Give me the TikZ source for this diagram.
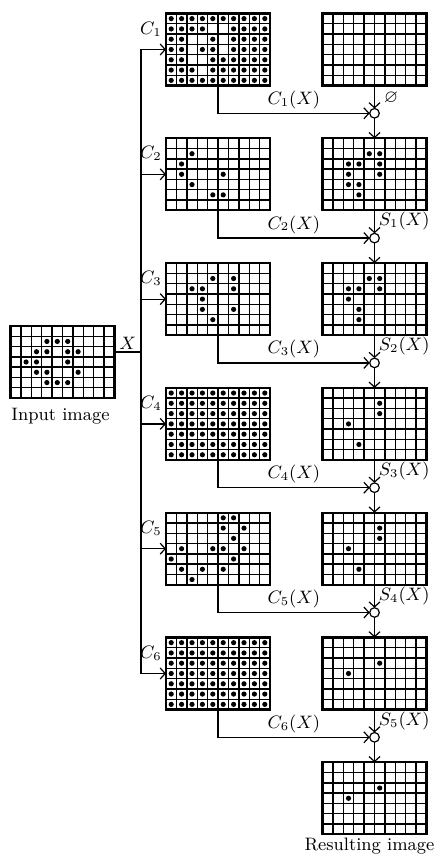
\documentclass[tikz,border=0pt]{standalone}
\usepackage{amssymb}
\usetikzlibrary{arrows.meta}
\newcommand\drawgrid[1]{%
 \begin{scope}[shift={(#1.north west)}]
  \foreach \i in {1,...,9} {\draw[gridline] (\i*10.4,0) -- (\i*10.4,72);}
  \foreach \j in {1,...,6} {\draw[gridline] (0,\j*72/7) -- (104,\j*72/7);}
 \end{scope}}
\newcommand\putdots[2]{%
 \begin{scope}[shift={(#1.north west)}]
  \foreach \r/\cs in {#2} {\foreach \c in \cs {\fill (\c*10.4-5.2,\r*72/7-36/7) circle[radius=1.3pt];}}
 \end{scope}}
\newcommand\fulldots[1]{%
 \begin{scope}[shift={(#1.north west)}]
  \foreach \r in {1,...,7} {\foreach \c in {1,...,10} {\fill (\c*10.4-5.2,\r*72/7-36/7) circle[radius=1.3pt];}}
 \end{scope}}
\begin{document}
\begin{tikzpicture}[x=0.5pt,y=-0.5pt,
  font=\fontsize{9}{11}\selectfont,
  gridbox/.style={rectangle,draw,line width=1.1pt,minimum width=52pt,minimum height=36pt,inner sep=0pt,outer sep=0pt},
  gridline/.style={line width=0.7pt},
  conn/.style={line width=0.6pt},
  arr/.style={conn,-{Straight Barb[length=2.5pt,width=5.5pt]}},
  junc/.style={circle,draw,line width=0.6pt,fill=white,minimum size=4.8pt,inner sep=0pt,outer sep=0pt},
  lbl/.style={inner sep=0.5pt}]
\useasboundingbox (0,0) rectangle (440,861);

% grids
\node[gridbox] (in) at (62.5,362) {};
\node[gridbox] (L1) at (218,49.5) {};
\node[gridbox] (L2) at (218,174.3) {};
\node[gridbox] (L3) at (218,299.1) {};
\node[gridbox] (L4) at (218,423.9) {};
\node[gridbox] (L5) at (218,548.7) {};
\node[gridbox] (L6) at (218,673.5) {};
\node[gridbox] (R1) at (374.5,49.5) {};
\node[gridbox] (R2) at (374.5,174.3) {};
\node[gridbox] (R3) at (374.5,299.1) {};
\node[gridbox] (R4) at (374.5,423.9) {};
\node[gridbox] (R5) at (374.5,548.7) {};
\node[gridbox] (R6) at (374.5,673.5) {};
\node[gridbox] (R7) at (374.5,798.3) {};
\foreach \g in {in,L1,L2,L3,L4,L5,L6,R1,R2,R3,R4,R5,R6,R7} {\drawgrid{\g}}

\putdots{in}{2/{4,5,6},3/{3,4,6,7},4/{2,3,6},5/{3,4,7},6/{4,5,6}}
\putdots{L1}{1/{1,...,10},2/{1,2,3,4,7,8,9,10},3/{1,2,5,7,8,9,10},4/{1,2,4,5,7,8,9,10},5/{1,2,5,6,7,8,9,10},6/{1,2,3,5,6,7,8,9,10},7/{1,...,10}}
\putdots{L2}{2/{3},3/{2},4/{2,6},5/{3},6/{5,6}}
\putdots{L3}{2/{5,7},3/{3,4,7},4/{4},5/{4,7},6/{5}}
\fulldots{L4}
\putdots{L5}{1/{6,7},2/{6,8},3/{7},4/{2,5,6,8},5/{1,7},6/{2,4,6},7/{3}}
\fulldots{L6}
\putdots{R2}{2/{5,6},3/{3,4,6},4/{3,6},5/{3,4},6/{4}}
\putdots{R3}{2/{5,6},3/{3,4,6},4/{3},5/{4},6/{4}}
\putdots{R4}{2/{6},3/{6},4/{3},6/{4}}
\putdots{R5}{2/{6},3/{6},4/{3},6/{4}}
\putdots{R6}{3/{6},4/{3}}
\putdots{R7}{3/{6},4/{3}}

% junctions
\node[junc] (o1) at (374.5,113.3) {};
\node[junc] (o2) at (374.5,238.1) {};
\node[junc] (o3) at (374.5,362.9) {};
\node[junc] (o4) at (374.5,487.7) {};
\node[junc] (o5) at (374.5,612.5) {};
\node[junc] (o6) at (374.5,737.3) {};

% input and bus
\coordinate (xo) at ([shift={(0,-10)}]in.east);
\coordinate (bx) at (141,352);
\draw[conn] (xo) -- node[lbl,above=0.5pt] (xl) {$X$} (bx);
\draw[conn] (L1.west -| bx) -- (L6.west -| bx);
\foreach \i in {1,...,6} {\draw[arr] (L\i.west -| bx) -- (L\i.west);}

% left labels
\foreach \i in {1,...,6} {\node[lbl,anchor=south east] (c\i) at ([shift={(-3,-12)}]L\i.west) {$C_{\i}$};}

% C_i(X) connectors
\foreach \i in {1,...,6} {\draw[arr] (L\i.south) |- node[lbl,pos=0.75,above=1.5pt] (cx\i) {$C_{\i}(X)$} (o\i.west);}

% right column
\draw[arr] (R1.south) -- (o1.north);
\draw[arr] (o1.south) -- (R2.north);
\draw[arr] (R2.south) -- (o2.north);
\draw[arr] (o2.south) -- (R3.north);
\draw[arr] (R3.south) -- (o3.north);
\draw[arr] (o3.south) -- (R4.north);
\draw[arr] (R4.south) -- (o4.north);
\draw[arr] (o4.south) -- (R5.north);
\draw[arr] (R5.south) -- (o5.north);
\draw[arr] (o5.south) -- (R6.north);
\draw[arr] (R6.south) -- (o6.north);
\draw[arr] (o6.south) -- (R7.north);

\node[lbl] (e0) at ([shift={(16.5,-15.3)}]o1.center) {$\varnothing$};
\node[lbl,anchor=west] (s1) at ([shift={(3,-16.6)}]o2.center) {$S_1(X)$};
\node[lbl,anchor=west] (s2) at ([shift={(3,-16.6)}]o3.center) {$S_2(X)$};
\node[lbl,anchor=west] (s3) at ([shift={(3,-16.6)}]o4.center) {$S_3(X)$};
\node[lbl,anchor=west] (s4) at ([shift={(3,-16.6)}]o5.center) {$S_4(X)$};
\node[lbl,anchor=west] (s5) at ([shift={(3,-16.6)}]o6.center) {$S_5(X)$};

\node[anchor=north,inner sep=0pt] (tin) at ([shift={(-2,10)}]in.south) {Input image};
\node[anchor=north,inner sep=0pt] (tout) at ([shift={(-5,3)}]R7.south) {Resulting image};
\end{tikzpicture}
\end{document}
